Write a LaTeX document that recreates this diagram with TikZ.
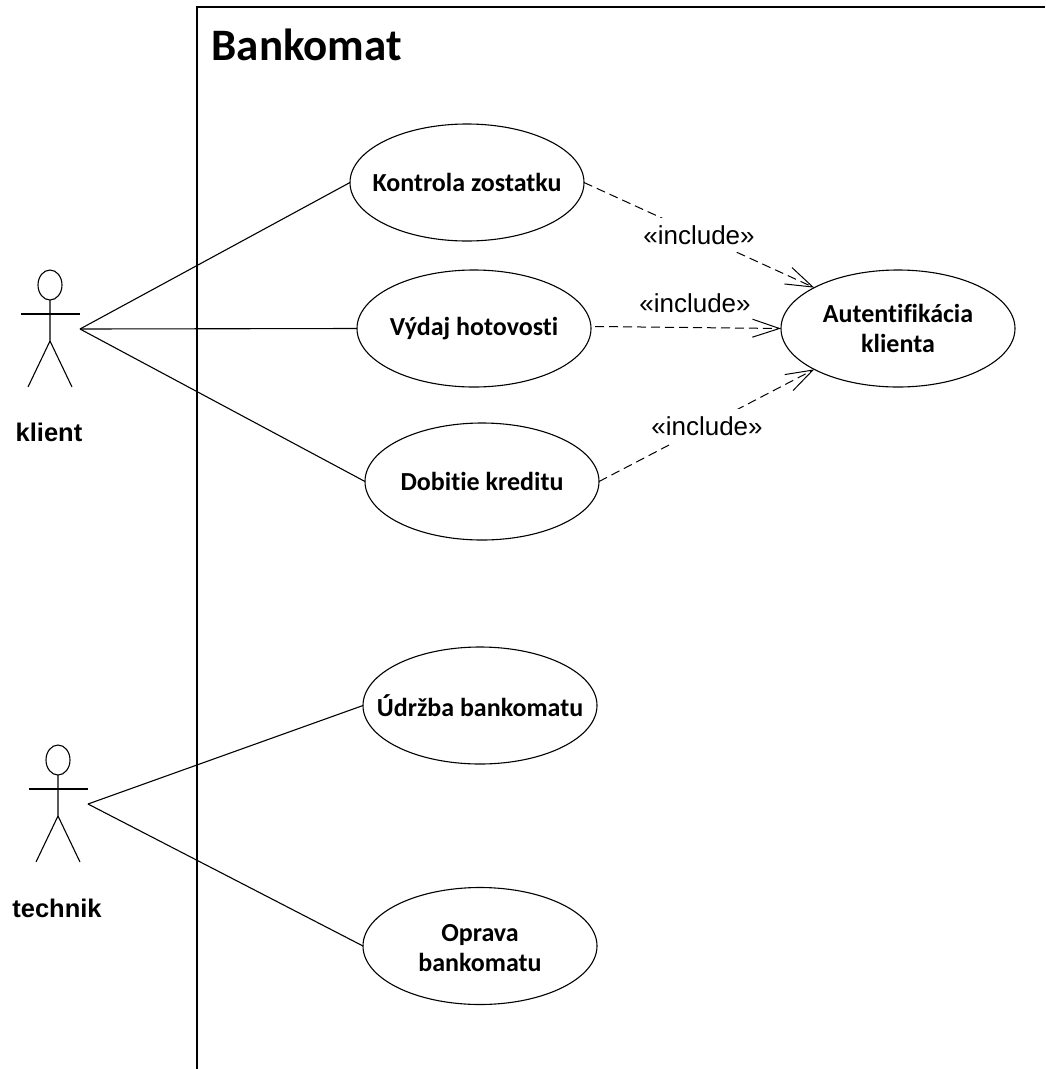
\documentclass[tikz,border=0pt]{standalone}
\usepackage{fontspec}
\setmainfont{Liberation Sans}
\newfontfamily\calfont[Ligatures=CommonOff]{Carlito}
\usetikzlibrary{arrows.meta,shapes.geometric}
\tikzset{
  usecase/.style={draw,ellipse,inner sep=0pt,outer sep=0pt,minimum width=234pt,minimum height=117pt},
  usecasetext/.style={inner sep=0pt,align=center,font=\calfont\bfseries\fontsize{26}{30}\selectfont},
  actorlabel/.style={inner sep=0pt,font=\bfseries\fontsize{25.5}{28}\selectfont},
  includelabel/.style={inner sep=0pt,font=\fontsize{26}{30}\selectfont},
  includegap/.style={includelabel,fill=white,minimum height=34pt},
  assoc/.style={line width=1.1pt},
  includes/.style={line width=1pt,dash pattern=on 9pt off 5pt,-{Straight Barb[length=27pt,width=18pt,line width=1pt]}},
}

\begin{document}
\begin{tikzpicture}[x=1pt,y=-1pt,line width=1.1pt]
\useasboundingbox (0,0) rectangle (1045,1069);
           % system border
           \draw[line width=2.4pt] (197,1069) -- (197,7) -- (1045,7);
           \node[inner sep=0pt,anchor=west,font=\calfont\bfseries\fontsize{45}{50}\selectfont] (bankomat) at (211,45) {Bankomat};
           % actors
           \foreach \name/\cx/\cy in {klient/50/285,technik/58/760}
           {
              \draw (\cx,\cy) ellipse (12 and 15);
              \draw (\cx,\cy+15) -- (\cx,\cy+56) -- (\cx-22,\cy+102);
              \draw (\cx,\cy+56) -- (\cx+22,\cy+102);
              \draw (\cx-29,\cy+29) -- (\cx+30,\cy+29);
              \coordinate (\name hand) at (\cx+30,\cy+44);
           }
           \node[actorlabel] (klient) at (49,432) {klient};
           \node[actorlabel] (technik) at (57,908) {technik};
           % use cases
           \node[usecase] (kontrola) at (467,182.5) {};
           \node[usecase] (vydaj) at (474,328.5) {};
           \node[usecase] (dobitie) at (482,481.5) {};
           \node[usecase] (auth) at (898,328.5) {};
           \node[usecase] (udrzba) at (480,705.5) {};
           \node[usecase] (oprava) at (480,946) {};
           \node[usecasetext] (kontrolatext) at (kontrola) {Kontrola zostatku};
           \node[usecasetext] (vydajtext) at (vydaj) {Výdaj hotovosti};
           \node[usecasetext] (dobitietext) at (dobitie) {Dobitie kreditu};
           \node[usecasetext] (authtext) at (auth) {Autentifikácia\\klienta};
           \node[usecasetext] (udrzbatext) at (udrzba) {Údržba bankomatu};
           \node[usecasetext] (opravatext) at (480,948) {Oprava\\bankomatu};
           % associations
           \draw[assoc] (klienthand) -- (kontrola.west);
           \draw[assoc] (klienthand) -- (vydaj.west);
           \draw[assoc] (klienthand) -- (dobitie.west);
           \draw[assoc] (technikhand) -- (udrzba.west);
           \draw[assoc] (technikhand) -- (oprava.west);
           % include relations
           \draw[includes] (kontrola.east) -- (auth.154);
           \draw[includes] (vydaj.east) ++(4,-2) -- (auth.west);
           \draw[includes] (dobitie.east) -- (auth.206);
           \node[includegap] (inclkontrola) at (699,235) {«include»};
           \node[includelabel] (inclvydaj) at (695,303) {«include»};
           \node[includegap] (incldobitie) at (707,426) {«include»};
\end{tikzpicture}
\end{document}
